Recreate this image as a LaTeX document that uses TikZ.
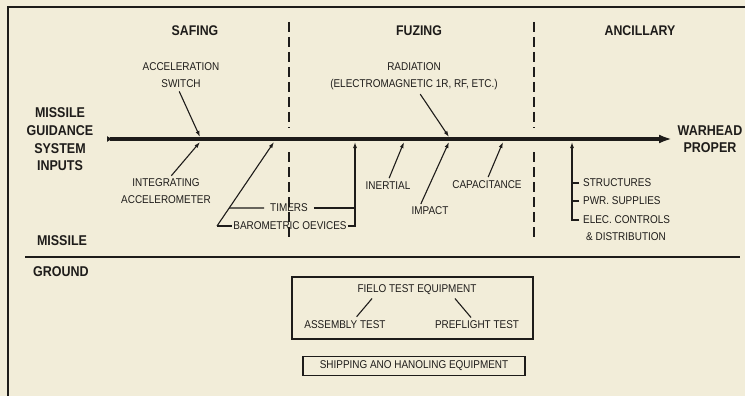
\documentclass[tikz,border=0pt]{standalone}
\usepackage{fontspec}
\setmainfont{Liberation Sans}[FakeStretch=0.88]
\usetikzlibrary{arrows.meta}
\definecolor{paper}{RGB}{242,237,217}
\definecolor{ink}{RGB}{30,28,26}

\begin{document}
\begin{tikzpicture}[x=1pt,y=-1pt,
  every node/.style={font=\fontsize{11.3}{17}\selectfont, inner sep=1pt, text=ink, align=center},
  head/.style={font=\bfseries\fontsize{14}{17}\selectfont},
  side/.style={font=\bfseries\fontsize{14.2}{17.6}\selectfont},
  feed/.style={draw=ink, line width=1.1pt, -{Latex[length=6pt,width=4pt]}},
  tick/.style={draw=ink, line width=1.1pt},
  divider/.style={draw=ink, line width=2.8pt, dash pattern=on 10pt off 5pt},
  box/.style={draw=ink, line width=1.5pt, inner sep=0pt}]
  \useasboundingbox (0,0) rectangle (745,396);
  \fill[paper] (0,0) rectangle (745,396);
  \draw[ink, line width=2.5pt] (8,396) -- (8,7) -- (745,7);
  \draw[divider] (289,22) -- (289,128);
  \draw[divider] (289,152) -- (289,240);
  \draw[divider] (534,22) -- (534,128);
  \draw[divider] (534,152) -- (534,240);
  \draw[ink, line width=1.8pt] (25,257) -- (740,257);

  \node[head] (safing) at (195,31) {SAFING};
  \node[head] (fuzing) at (419,31) {FUZING};
  \node[head] (ancillary) at (640,31) {ANCILLARY};
  \node[side] (inputs) at (60,139.5) {MISSILE\\GUIDANCE\\SYSTEM\\INPUTS};
  \node[side] (warhead) at (710,139) {WARHEAD\\PROPER};
  \node[side] (missile) at (62,241) {MISSILE};
  \node[side] (ground) at (61,272) {GROUND};

  \coordinate (start) at (107,139);
  \coordinate (tip) at (672,139);
  \draw[ink, line width=3.2pt, {Latex[reversed,length=6pt,width=6pt]}-{Latex[length=13pt,width=9pt]}] (start) -- (tip);

  \node (accsw) at (181,75) {ACCELERATION\\SWITCH};
  \node (integ) at (166,191) {INTEGRATING\\ACCELEROMETER};
  \node (radiation) at (414,76) {RADIATION\\(ELECTROMAGNETIC 1R, RF, ETC.)};
  \node (inertial) at (388,186) {INERTIAL};
  \node (impact) at (430,211) {IMPACT};
  \node (capac) at (487,185) {CAPACITANCE};
  \node[inner xsep=6pt] (timers) at (289,208) {TIMERS};
  \node (baro) at (290,226) {BAROMETRIC OEVICES};

  \coordinate (accpt) at (200,137);
  \coordinate (integpt) at (200,142);
  \coordinate (radpt) at (449,137);
  \coordinate (inertpt) at (404,142);
  \coordinate (impactpt) at (449,142);
  \coordinate (capacpt) at (503,142);
  \coordinate (baropt) at (274,142);
  \coordinate (timerpt) at (355,142);
  \coordinate (corner) at (217,226);

  \draw[feed, shorten <=3pt] ([xshift=-3pt]accsw.south) -- (accpt);
  \draw[feed, shorten <=2pt] ([xshift=4pt]integ.north) -- (integpt);
  \draw[feed, shorten <=4pt] ([xshift=4pt]radiation.south) -- (radpt);
  \draw[feed, shorten <=3pt] (inertial.north) -- (inertpt);
  \draw[feed, shorten <=2pt] ([xshift=-10pt]impact.north) -- (impactpt);
  \draw[feed, shorten <=3pt] (capac.north) -- (capacpt);
  \draw[feed] (corner) -- coordinate[pos=0.214] (tjoin) (baropt);
  \draw[tick] (baro.west) -- (corner);
  \draw[tick] (tjoin) -- (timers.west);
  \draw[tick] (timers.east) -- (timers.east -| timerpt);
  \draw[feed] (baro.east) -| (timerpt);

  \node[anchor=west, inner xsep=4pt] (struct) at (579,183) {STRUCTURES};
  \node[anchor=west, inner xsep=4pt] (pwr) at (579,201) {PWR. SUPPLIES};
  \node[anchor=west, inner xsep=4pt] (elec) at (579,220) {ELEC. CONTROLS};
  \node[anchor=west] (distrib) at (585,237) {\& DISTRIBUTION};
  \coordinate (ancpt) at (572,142);
  \draw[tick] (struct.west) -- (struct.west -| ancpt);
  \draw[tick] (pwr.west) -- (pwr.west -| ancpt);
  \draw[feed] (elec.west) -| (ancpt);

  \node[box, minimum width=241pt, minimum height=62pt] (testbox) at (412.5,308) {};
  \node (field) at (417,290) {FIELO TEST EQUIPMENT};
  \node (assembly) at (345,325) {ASSEMBLY TEST};
  \node (preflight) at (477,325) {PREFLIGHT TEST};
  \draw[tick, shorten <=3pt, shorten >=4pt] ([xshift=-43pt]field.south) -- ([xshift=9pt]assembly.north);
  \draw[tick, shorten <=3pt, shorten >=3pt] ([xshift=36pt]field.south) -- ([xshift=-4pt]preflight.north);

  \node[box, minimum width=222pt, minimum height=19pt] (shipping) at (414,366) {SHIPPING ANO HANOLING EQUIPMENT};
\end{tikzpicture}
\end{document}
